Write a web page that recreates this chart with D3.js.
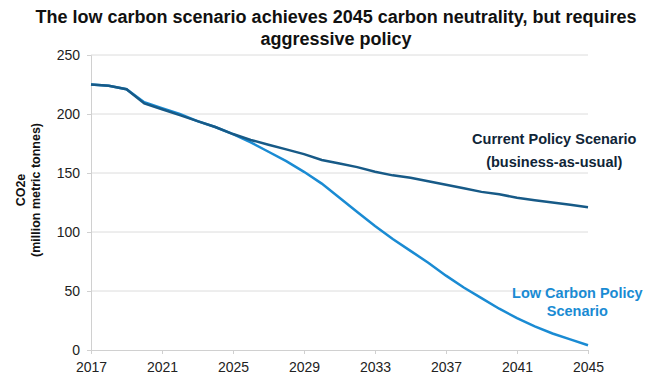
<!DOCTYPE html>
<html lang="en">
<head>
<meta charset="UTF-8">
<title>Carbon scenarios</title>
<script src="https://d3js.org/d3.v7.min.js"></script>
<style>
  body { margin: 0; background: #ffffff; }
  svg text { font-family: "Liberation Sans", Arial, sans-serif; }
</style>
</head>
<body>
<div id="chart"></div>
<script>
// data
var years = d3.range(2017, 2046);
var currentPolicy = [225, 224, 221, 209, 204, 199, 194, 189, 183, 178, 174, 170, 166, 161,
                     158, 155, 151, 148, 146, 143, 140, 137, 134, 132, 129, 127, 125, 123, 121];
var lowCarbon = [225, 224, 221, 210, 205, 200, 194, 189, 183, 176, 168, 160, 151, 141,
                 129, 117, 105, 94, 84, 74, 63, 53, 44, 35, 27, 20, 14, 9, 4];
var yTicks = [0, 50, 100, 150, 200, 250];
var xTicks = [2017, 2021, 2025, 2029, 2033, 2037, 2041, 2045];

var W = 657, H = 375;
var margin = {top: 55, right: 69, bottom: 25, left: 91};
var width = W - margin.left - margin.right,
    height = H - margin.top - margin.bottom;

var svg = d3.select("#chart").append("svg")
    .attr("width", W).attr("height", H);

var g = svg.append("g")
    .attr("transform", "translate(" + margin.left + "," + margin.top + ")");

var x = d3.scaleLinear().domain([2017, 2045]).range([0, width]);
var y = d3.scaleLinear().domain([0, 250]).range([height, 0]);

// grid lines
g.selectAll(".grid")
    .data(yTicks.filter(function(d) { return d > 0; }))
    .enter().append("line")
    .attr("x1", 0).attr("x2", width)
    .attr("y1", function(d) { return y(d); })
    .attr("y2", function(d) { return y(d); })
    .attr("stroke", "#dcdcdc").attr("stroke-width", 1);

// y axis
var yAxis = g.append("g")
    .call(d3.axisLeft(y).tickValues(yTicks).tickSize(4).tickPadding(7));
yAxis.select(".domain").attr("stroke", "#d0d0d0");
yAxis.selectAll(".tick line").attr("stroke", "#d0d0d0");
yAxis.selectAll("text").attr("fill", "#222").style("font-size", "14px");

// x axis
var xAxis = g.append("g")
    .attr("transform", "translate(0," + height + ")")
    .call(d3.axisBottom(x).tickValues(xTicks).tickFormat(d3.format("d")).tickSize(4).tickPadding(8));
xAxis.select(".domain").attr("stroke", "#d0d0d0");
xAxis.selectAll(".tick line").attr("stroke", "#d0d0d0");
xAxis.selectAll("text").attr("fill", "#222").style("font-size", "14px");

// lines
var line = d3.line()
    .x(function(d, i) { return x(years[i]); })
    .y(function(d) { return y(d); });

g.append("path")
    .datum(lowCarbon)
    .attr("d", line)
    .attr("fill", "none")
    .attr("stroke", "#1a8bd3")
    .attr("stroke-width", 2.5);

g.append("path")
    .datum(currentPolicy)
    .attr("d", line)
    .attr("fill", "none")
    .attr("stroke", "#175a87")
    .attr("stroke-width", 2.5);

// title
svg.append("text")
    .attr("x", 336).attr("y", 23)
    .attr("text-anchor", "middle")
    .style("font-size", "18px").style("font-weight", "bold")
    .attr("fill", "#111")
    .text("The low carbon scenario achieves 2045 carbon neutrality, but requires");
svg.append("text")
    .attr("x", 336).attr("y", 45)
    .attr("text-anchor", "middle")
    .style("font-size", "18px").style("font-weight", "bold")
    .attr("fill", "#111")
    .text("aggressive policy");

// y label
var yl = svg.append("text")
    .attr("transform", "translate(25,190) rotate(-90)")
    .attr("text-anchor", "middle")
    .style("font-size", "12.5px").style("font-weight", "bold")
    .attr("fill", "#111");
yl.append("tspan").attr("x", 0).attr("dy", 0).text("CO2e");
yl.append("tspan").attr("x", 0).attr("dy", 15).text("(million metric tonnes)");

// annotations
var a1 = g.append("text")
    .attr("text-anchor", "middle")
    .style("font-size", "14.5px").style("font-weight", "bold")
    .attr("fill", "#0f2537");
a1.append("tspan").attr("x", x(2043.1)).attr("y", y(175)).text("Current Policy Scenario");
a1.append("tspan").attr("x", x(2043.1)).attr("y", y(155)).text("(business-as-usual)");

var a2 = g.append("text")
    .attr("text-anchor", "middle")
    .style("font-size", "14.5px").style("font-weight", "bold")
    .attr("fill", "#1a8bd3");
a2.append("tspan").attr("x", x(2044.4)).attr("y", y(44)).text("Low Carbon Policy");
a2.append("tspan").attr("x", x(2044.4)).attr("y", y(29)).text("Scenario");
</script>
</body>
</html>
